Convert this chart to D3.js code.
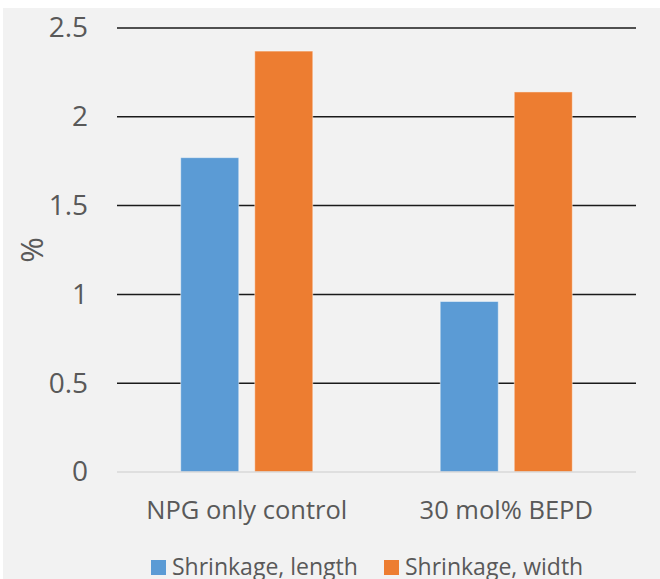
<!DOCTYPE html>
<html>
<head>
<meta charset="utf-8">
<script src="https://cdnjs.cloudflare.com/ajax/libs/d3/7.8.5/d3.min.js"></script>
<style>
  body { margin: 0; background: #fff; }
  text { font-family: "Open Sans", sans-serif; fill: #595959; }
</style>
</head>
<body>
<svg id="chart" width="660" height="579"></svg>
<script>
// chart data
const categories = ["NPG only control", "30 mol% BEPD"]
const series = ["Shrinkage, length", "Shrinkage, width"]
const lengthValues = [1.77, 0.96]
const widthValues = [2.37, 2.14]
const yTicks = [0, 0.5, 1, 1.5, 2, 2.5]
const colors = ["#5B9BD5", "#ED7D31"]

const svg = d3.select("#chart")
const plot = {left: 117, right: 636, top: 28, bottom: 472}

// background panel
svg.append("rect").attr("x", 3).attr("y", 8)
    .attr("width", 660).attr("height", 579).attr("fill", "#F2F2F2")

let x0 = d3.scaleBand().domain(categories)
    .range([plot.left, plot.right]).paddingInner(0.491).paddingOuter(0.2455)
let x1 = d3.scaleBand().domain(series)
    .range([0, x0.bandwidth()]).paddingInner(0.216).paddingOuter(0)
let y = d3.scaleLinear().domain([0, 2.5]).range([plot.bottom, plot.top])

// gridlines
svg.selectAll(".grid")
    .data(yTicks.filter(d => d > 0))
    .enter().append("line")
    .attr("x1", plot.left).attr("x2", plot.right)
    .attr("y1", d => y(d)).attr("y2", d => y(d))
    .attr("stroke", "#1a1a1a").attr("stroke-width", 1.5)

// bars
let rows = categories.map((c, i) => ({cat: c, vals: [lengthValues[i], widthValues[i]]}))
let groups = svg.selectAll(".grp").data(rows).enter().append("g")
    .attr("transform", d => `translate(${x0(d.cat)},0)`)
groups.selectAll("rect")
    .data(d => d.vals.map((v, j) => ({s: series[j], v: v, j: j})))
    .enter().append("rect")
    .attr("x", d => x1(d.s))
    .attr("y", d => y(d.v))
    .attr("width", x1.bandwidth())
    .attr("height", d => y(0) - y(d.v))
    .attr("fill", d => colors[d.j])
    .attr("stroke", "#ffffff").attr("stroke-opacity", 0.45).attr("stroke-width", 1)

// zero axis
svg.append("line")
    .attr("x1", plot.left).attr("x2", plot.right)
    .attr("y1", y(0)).attr("y2", y(0))
    .attr("stroke", "#D9D9D9").attr("stroke-width", 1.5)

// y tick labels
let y_axis = d3.axisLeft(y).tickValues(yTicks).tickSize(0).tickPadding(29)
    .tickFormat(d => d3.format("")(d))
let ya = svg.append("g").attr("transform", `translate(${plot.left},0)`).call(y_axis)
ya.select(".domain").remove()
ya.selectAll("text").style("font-size", "28px").attr("fill", "#595959")
    .style("font-family", "'Open Sans', sans-serif")

// x category labels
let x_axis = d3.axisBottom(x0).tickSize(0).tickPadding(29)
let xa = svg.append("g").attr("transform", `translate(0,${plot.bottom})`).call(x_axis)
xa.select(".domain").remove()
xa.selectAll("text").style("font-size", "25.5px").attr("fill", "#595959")
    .style("font-family", "'Open Sans', sans-serif")

// y label
svg.append("text")
    .attr("transform", `translate(43,${(plot.top + plot.bottom) / 2}) rotate(270)`)
    .attr("text-anchor", "middle")
    .style("font-size", "31px")
    .text("%")

// legend
let legendX = [151, 384]
series.forEach(function (d, i) {
    let lg = svg.append("g").attr("transform", `translate(${legendX[i]},560)`)
    lg.append("rect").attr("width", 15).attr("height", 15).attr("fill", colors[i])
    lg.append("text").attr("x", 21).attr("y", 15).style("font-size", "23px").text(d)
})
</script>
</body>
</html>
